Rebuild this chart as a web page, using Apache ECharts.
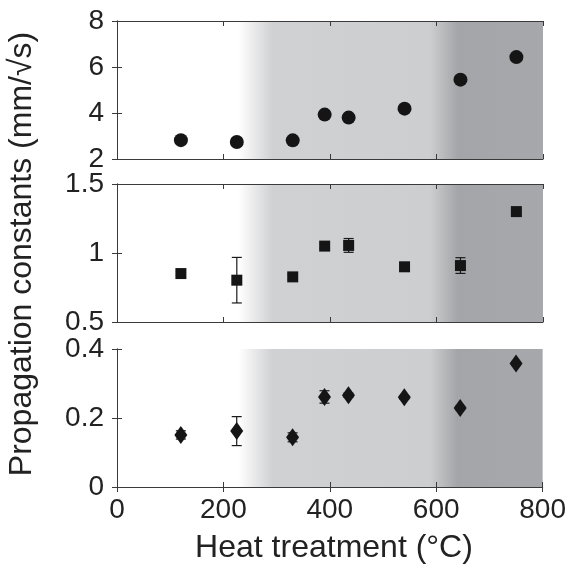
<!DOCTYPE html>
<html>
<head>
<meta charset="utf-8">
<script src="https://cdn.jsdelivr.net/npm/echarts@6/dist/echarts.min.js"></script>
<style>
  html, body { margin: 0; padding: 0; background: #fff; }
  #chart { width: 569px; height: 571px; }
</style>
</head>
<body>
<div id="chart"></div>
<script>
// heat treatment temperatures (°C)
var temps = [120, 225, 330, 390, 435, 540, 645, 750];

// panel a) circles
var aVals = [2.82, 2.74, 2.81, 3.93, 3.80, 4.19, 5.45, 6.43];
var aErrs = [0.10, 0.16, 0.05, 0.08, 0.12, 0.05, 0.05, 0.05];
// panel b) squares
var bVals = [0.851, 0.803, 0.827, 1.05, 1.055, 0.90, 0.909, 1.30];
var bErrs = [0.015, 0.165, 0.015, 0.015, 0.05, 0.015, 0.057, 0.015];
// panel c) diamonds
var cVals = [0.151, 0.162, 0.144, 0.261, 0.266, 0.260, 0.229, 0.358];
var cErrs = [0.012, 0.042, 0.013, 0.018, 0.006, 0.005, 0.005, 0.005];

var yRanges = [[2, 8, 2], [0.5, 1.5, 0.5], [0, 0.4, 0.2]];
var panelLabels = ['a)', 'b)', 'c)'];

// shading bands (°C): white -> light grey -> dark grey
var shadeTemps = [0, 228, 292, 588, 640, 800];
var shadeColors = ['#ffffff', '#ffffff', '#d0d1d3', '#cdced0', '#a4a5a8', '#a7a8ab'];

var chart = echarts.init(document.getElementById('chart'));

var font = 'Liberation Sans, Arial, Helvetica, sans-serif';
var axisColor = '#3a3a3a';
var tops = [21, 184, 349];
var panelHeight = 138;

var grids = [], xAxes = [], yAxes = [], series = [];

function background(idx) {
  var r = yRanges[idx];
  return {
    type: 'custom',
    xAxisIndex: idx * 2,
    yAxisIndex: idx * 2,
    z: 1,
    silent: true,
    data: [[0, 800]],
    renderItem: function (params, api) {
      var p0 = api.coord([api.value(0), r[1]]);
      var p1 = api.coord([api.value(1), r[0]]);
      var span = shadeTemps[shadeTemps.length - 1];
      var grad = new echarts.graphic.LinearGradient(p0[0], 0, p1[0], 0,
        shadeTemps.map(function (t, i) { return {offset: t / span, color: shadeColors[i]}; }), true);
      return {
        type: 'rect',
        shape: {x: p0[0], y: p0[1], width: p1[0] - p0[0], height: p1[1] - p0[1]},
        style: {fill: grad}
      };
    }
  };
}

function errorBars(vals, errs, idx) {
  return {
    type: 'custom',
    xAxisIndex: idx * 2,
    yAxisIndex: idx * 2,
    z: 3,
    data: temps.map(function (t, i) { return [t, vals[i] - errs[i], vals[i] + errs[i]]; }),
    renderItem: function (params, api) {
      var lo = api.coord([api.value(0), api.value(1)]);
      var hi = api.coord([api.value(0), api.value(2)]);
      var w = 5;
      var st = {stroke: '#1a1a1a', lineWidth: 1.2};
      return {
        type: 'group',
        children: [
          {type: 'line', shape: {x1: lo[0], y1: lo[1], x2: hi[0], y2: hi[1]}, style: st},
          {type: 'line', shape: {x1: lo[0] - w, y1: lo[1], x2: lo[0] + w, y2: lo[1]}, style: st},
          {type: 'line', shape: {x1: hi[0] - w, y1: hi[1], x2: hi[0] + w, y2: hi[1]}, style: st}
        ]
      };
    }
  };
}

var panels = [
  {vals: aVals, errs: aErrs, symbol: 'circle', size: 14},
  {vals: bVals, errs: bErrs, symbol: 'rect', size: 11},
  {vals: cVals, errs: cErrs, symbol: 'diamond', size: [13, 18]}
];

panels.forEach(function (p, idx) {
  var r = yRanges[idx];
  grids.push({left: 117, right: 26, top: tops[idx], height: panelHeight});
  var last = idx === 2;
  xAxes.push({
    type: 'value', gridIndex: idx, min: 0, max: 800, interval: 200, position: 'bottom', z: 5,
    axisLine: {lineStyle: {color: axisColor, width: 1}},
    axisTick: {inside: true, length: 5, lineStyle: {color: axisColor}},
    axisLabel: {show: last, color: '#222', fontSize: 28, fontFamily: font, margin: 9},
    splitLine: {show: false}
  });
  xAxes.push({
    type: 'value', gridIndex: idx, min: 0, max: 800, interval: 200, position: 'top', z: 5,
    axisLine: {lineStyle: {color: axisColor, width: 1}},
    axisTick: {inside: true, length: 5, lineStyle: {color: axisColor}},
    axisLabel: {show: false},
    splitLine: {show: false}
  });
  yAxes.push({
    type: 'value', gridIndex: idx, min: r[0], max: r[1], interval: r[2], position: 'left', z: 5,
    axisLine: {show: true, lineStyle: {color: axisColor, width: 1}},
    axisTick: {show: true, inside: true, length: 5, lineStyle: {color: axisColor}},
    axisLabel: {color: '#222', fontSize: 28, fontFamily: font, margin: 13},
    splitLine: {show: false}
  });
  yAxes.push({
    type: 'value', gridIndex: idx, min: r[0], max: r[1], interval: r[2], position: 'right', z: 5,
    axisLine: {show: true, lineStyle: {color: axisColor, width: 1}},
    axisTick: {show: true, inside: true, length: 5, lineStyle: {color: axisColor}},
    axisLabel: {show: false},
    splitLine: {show: false}
  });

  series.push(background(idx));
  series.push(errorBars(p.vals, p.errs, idx));
  series.push({
    type: 'scatter',
    xAxisIndex: idx * 2,
    yAxisIndex: idx * 2,
    z: 4,
    symbol: p.symbol,
    symbolSize: p.size,
    itemStyle: {color: '#151515', opacity: 1},
    data: temps.map(function (t, i) { return [t, p.vals[i]]; })
  });
});

var option = {
  animation: false,
  backgroundColor: '#fff',
  grid: grids,
  xAxis: xAxes,
  yAxis: yAxes,
  series: series,
  graphic: [
    {type: 'text', x: 334, y: 532,
     style: {text: 'Heat treatment (°C)', fontSize: 32, fontFamily: font, fill: '#222',
             textAlign: 'center', textVerticalAlign: 'top'}},
    {type: 'text', x: 6, y: 254, rotation: Math.PI / 2,
     style: {text: 'Propagation constants (mm/\u221As)', fontSize: 32, fontFamily: font, fill: '#222',
             textAlign: 'center', textVerticalAlign: 'top'}},
    {type: 'text', x: 127, y: tops[0] + 11, style: {text: panelLabels[0], fontSize: 24, fontFamily: font, fill: '#222'}},
    {type: 'text', x: 127, y: tops[1] + 11, style: {text: panelLabels[1], fontSize: 24, fontFamily: font, fill: '#222'}},
    {type: 'text', x: 127, y: tops[2] + 11, style: {text: panelLabels[2], fontSize: 24, fontFamily: font, fill: '#222'}}
  ]
};

chart.setOption(option);
</script>
</body>
</html>
